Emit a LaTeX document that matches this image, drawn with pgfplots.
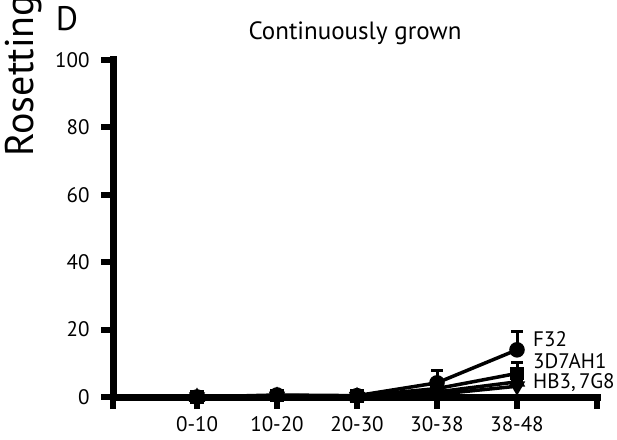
\documentclass[border=0pt]{standalone}
\usepackage{fontspec}
\setmainfont{PT Sans}
\usepackage{pgfplots}
\pgfplotsset{compat=1.18}
\begin{document}
\begin{tikzpicture}[x=1pt,y=1pt]
\useasboundingbox (0,0) rectangle (617,439);
\node[rotate=90,anchor=west,font=\fontsize{40}{44}\selectfont] at (24,279) {Rosetting};
\node[anchor=center,font=\fontsize{34}{40}\selectfont] at (67,420) {D};
\begin{axis}[
  at={(113pt,42pt)}, anchor=south west,
  scale only axis, width=484pt, height=337pt,
  xmin=-0.05, xmax=6, ymin=0, ymax=100,
  axis lines=left,
  axis line style={line width=7pt,-,line cap=rect},
  xtick={-0.05,1,2,3,4,5,6}, xticklabels={,0-10,10-20,20-30,30-38,38-48,},
  ytick={0,20,40,60,80,100},
  major tick style={line width=6pt,black},
  tick align=outside, major tick length=12pt,
  ticklabel style={font=\fontsize{21}{24}\selectfont},
  /pgf/number format/assume math mode=true,
  xticklabel style={yshift=-4pt},
  yticklabel style={xshift=-8pt},
  clip=false,
  title={Continuously grown}, title style={font=\fontsize{25}{29}\selectfont, at={(0.5,1)}, yshift=6pt, anchor=south},
]
% F32
\addplot[black, line width=3.5pt, mark=*, mark size=6pt,
  error bars/.cd, y dir=plus, y explicit, error bar style={line width=3pt}, error mark options={rotate=90,mark size=6pt,line width=3pt}]
  coordinates {(1,0) +- (0,0.3) (2,0.6) +- (0,0.5) (3,0.4) +- (0,0.4) (4,4.2) +- (0,3.8) (5,14) +- (0,5.5)};
% 3D7AH1
\addplot[black, line width=3.5pt, mark=square*, mark size=5pt,
  error bars/.cd, y dir=plus, y explicit, error bar style={line width=3pt}, error mark options={rotate=90,mark size=6pt,line width=3pt}]
  coordinates {(1,0) +- (0,0.3) (2,0.4) +- (0,0.4) (3,0.3) +- (0,0.3) (4,2.5) +- (0,2) (5,7) +- (0,3.2)};
% HB3
\addplot[black, line width=3.5pt, mark=triangle*, mark size=6pt,
  error bars/.cd, y dir=plus, y explicit, error bar style={line width=3pt}, error mark options={rotate=90,mark size=6pt,line width=3pt}]
  coordinates {(1,0) +- (0,0.3) (2,0.3) +- (0,0.3) (3,0.2) +- (0,0.3) (4,1.5) +- (0,1.5) (5,4.5) +- (0,2)};
% 7G8
\addplot[black, line width=3.5pt, mark=triangle*, mark options={rotate=180}, mark size=6pt,
  error bars/.cd, y dir=plus, y explicit, error bar style={line width=3pt}, error mark options={rotate=90,mark size=6pt,line width=3pt}]
  coordinates {(1,0) +- (0,0.3) (2,0.2) +- (0,0.3) (3,0.1) +- (0,0.3) (4,0.8) +- (0,1.2) (5,3.2) +- (0,1.5)};
\node[anchor=west,inner sep=0pt,font=\fontsize{21}{24}\selectfont] at (axis cs:5.2,17.2) {F32};
\node[anchor=west,inner sep=0pt,font=\fontsize{21}{24}\selectfont] at (axis cs:5.2,10.7) {3D7AH1};
\node[anchor=west,inner sep=0pt,font=\fontsize{21}{24}\selectfont] at (axis cs:5.2,4.2) {HB3,\,7G8};
\end{axis}
\end{tikzpicture}
\end{document}
